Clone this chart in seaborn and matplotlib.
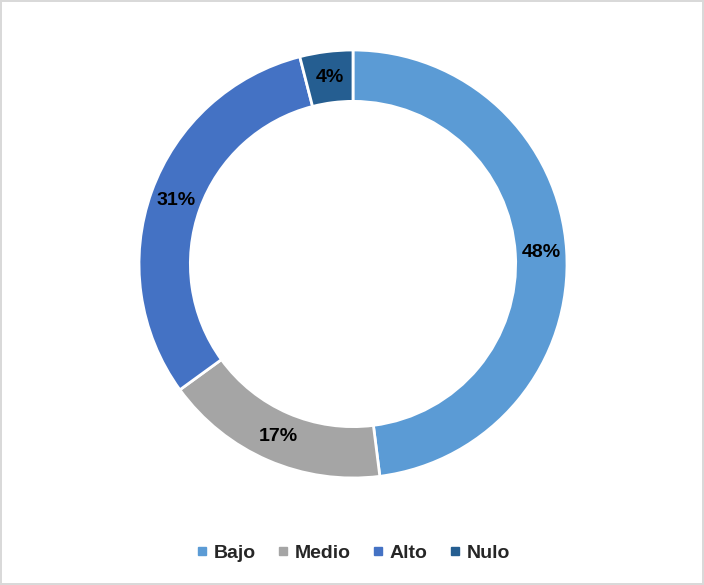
import matplotlib
matplotlib.use("Agg")
import matplotlib.pyplot as plt
from matplotlib.lines import Line2D
import seaborn as sns

categories = ["Bajo", "Medio", "Alto", "Nulo"]
values = [48, 17, 31, 4]
colors = ["#5B9BD5", "#A5A5A5", "#4472C4", "#255E91"]

sns.set_theme(style="white")
plt.rcParams['font.family'] = ['Liberation Sans', 'DejaVu Sans']

fig = plt.figure(figsize=(7.04, 5.85), dpi=100)
fig.patch.set_edgecolor("#D9D9D9")
fig.patch.set_linewidth(1.5)

# center ~ (353, 264) px, outer radius ~214 px
ax = fig.add_axes([139 / 704, 107 / 585, 428 / 704, 428 / 585])
wedges, texts, autotexts = ax.pie(
    values, colors=colors, startangle=90, counterclock=False,
    radius=1, autopct="%d%%", pctdistance=0.88,
    wedgeprops=dict(width=0.24, edgecolor="white", linewidth=2),
    textprops=dict(fontsize=14, fontweight="bold", color="black"))
ax.set_xlim(-1, 1)
ax.set_ylim(-1, 1)
ax.set_aspect("equal")

handles = [Line2D([0], [0], marker="s", linestyle="", markersize=6,
                  markerfacecolor=c, markeredgecolor=c) for c in colors]
leg = fig.legend(handles, categories, loc="center", bbox_to_anchor=(0.5, 1 - 553 / 585),
                 ncol=4, frameon=False, handlelength=0.8, handletextpad=0.2,
                 columnspacing=1.0, prop=dict(size=14, weight="bold"))

fig.savefig("out.png", dpi=100, edgecolor=fig.get_edgecolor())
